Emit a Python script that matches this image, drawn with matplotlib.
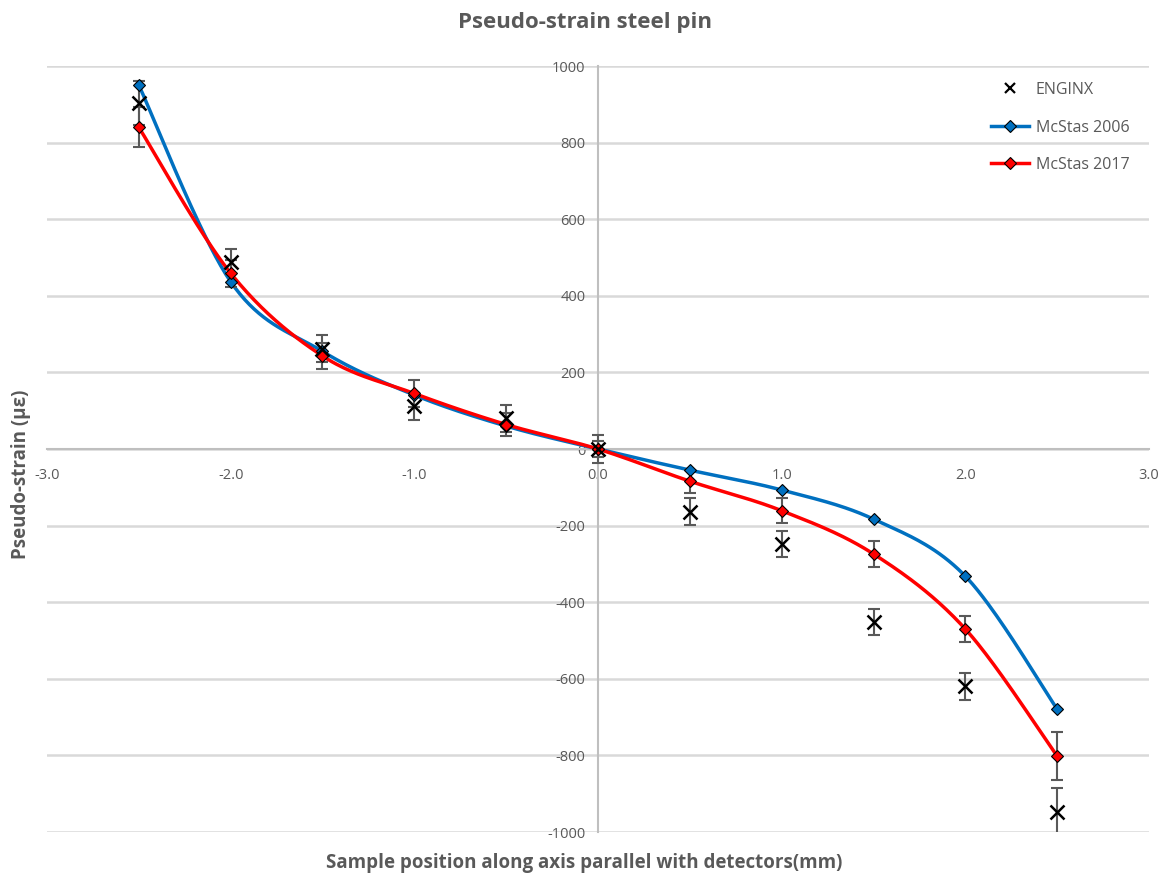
import numpy as np
import matplotlib
matplotlib.use("Agg")
import matplotlib.pyplot as plt
from matplotlib.lines import Line2D

plt.rcParams['font.family'] = ['Open Sans', 'DejaVu Sans']

# verileri grafikten okuduk
pos = [-2.5, -2.0, -1.5, -1.0, -0.5, 0.0, 0.5, 1.0, 1.5, 2.0, 2.5]
enginx = [903, 489, 262, 112, 80, 0, -164, -248, -452, -620, -948]
enginx_err = [58, 32, 35, 35, 35, 36, 35, 35, 34, 34, 63]
mcstas2006 = [950, 437, 255, 141, 60, 0, -55, -107, -183, -332, -679]
mcstas2017 = [840, 459, 243, 145, 64, 0, -84, -161, -274, -470, -802]
mcstas2017_err = [52, 35, 35, 35, 30, 20, 30, 33, 33, 34, 63]

xticks = [-3.0, -2.0, -1.0, 0.0, 1.0, 2.0, 3.0]
yticks = list(range(-1000, 1001, 200))

gray = '#595959'
blue = '#0070C0'
red = '#FF0000'


def smooth(x, y, n=40):
    # excel tarzi yumusak cizgi (catmull-rom / bezier)
    x = np.asarray(x, float)
    y = np.asarray(y, float)
    p = np.column_stack([x, y])
    ext = np.vstack([p[0], p, p[-1]])
    t = np.linspace(0, 1, n)[:, None]
    out = []
    for i in range(len(p) - 1):
        p0, p1, p2, p3 = ext[i], ext[i + 1], ext[i + 2], ext[i + 3]
        c1 = p1 + (p2 - p0) / 6
        c2 = p2 - (p3 - p1) / 6
        seg = ((1 - t) ** 3) * p1 + 3 * ((1 - t) ** 2) * t * c1 + 3 * (1 - t) * t ** 2 * c2 + t ** 3 * p2
        out.append(seg)
    out = np.vstack(out)
    return out[:, 0], out[:, 1]


fig = plt.figure(figsize=(11.69, 8.84), dpi=100)
ax = fig.add_axes([0.0402, 0.0588, 0.9427, 0.8665])

ax.set_xlim(-3, 3)
ax.set_ylim(-1000, 1000)

ax.spines['left'].set_position(('data', 0))
ax.spines['bottom'].set_position(('data', 0))
ax.spines['right'].set_visible(False)
ax.spines['top'].set_visible(False)
for s in ['left', 'bottom']:
    ax.spines[s].set_color('#BFBFBF')
    ax.spines[s].set_linewidth(1.5)
    ax.spines[s].set_zorder(1)

ax.set_yticks(yticks)
ax.set_yticklabels([str(v) for v in yticks])
ax.set_xticks(xticks)
ax.set_xticklabels(["%.1f" % v for v in xticks])
ax.tick_params(axis='both', length=0, labelsize=10.5, labelcolor=gray)
ax.tick_params(axis='y', pad=9)
ax.tick_params(axis='x', pad=14)
ax.yaxis.grid(True, color='#D9D9D9', linewidth=1.8, zorder=0)
ax.set_axisbelow(True)

# cizgiler
sx, sy = smooth(pos, mcstas2006)
ax.plot(sx, sy, color=blue, linewidth=2.5, zorder=3)
sx, sy = smooth(pos, mcstas2017)
ax.plot(sx, sy, color=red, linewidth=2.5, zorder=3)

# hata cubuklari
ax.errorbar(pos, mcstas2017, yerr=mcstas2017_err, fmt='none', ecolor=gray,
            elinewidth=1.5, capsize=4, capthick=1.5, zorder=4)
ax.errorbar(pos, enginx, yerr=enginx_err, fmt='none', ecolor=gray,
            elinewidth=1.5, capsize=4, capthick=1.5, zorder=4)

ax.plot(pos, mcstas2006, linestyle='none', marker='D', markersize=6.5,
        markerfacecolor=blue, markeredgecolor='black', markeredgewidth=0.8, zorder=5)
ax.plot(pos, mcstas2017, linestyle='none', marker='D', markersize=6.5,
        markerfacecolor=red, markeredgecolor='black', markeredgewidth=0.8, zorder=5)
ax.plot(pos, enginx, linestyle='none', marker='x', markersize=10,
        markeredgecolor='black', markeredgewidth=1.8, zorder=6)

handles = [
    Line2D([], [], linestyle='none', marker='x', markersize=7, markeredgecolor='black', markeredgewidth=1.6),
    Line2D([], [], color=blue, linewidth=2.5, marker='D', markersize=6,
           markerfacecolor=blue, markeredgecolor='black', markeredgewidth=0.8),
    Line2D([], [], color=red, linewidth=2.5, marker='D', markersize=6,
           markerfacecolor=red, markeredgecolor='black', markeredgewidth=0.8),
]
leg = ax.legend(handles, ['ENGINX', 'McStas 2006', 'McStas 2017'], loc='upper right',
                bbox_to_anchor=(0.995, 0.998), frameon=False, fontsize=11.5,
                handlelength=2.4, labelspacing=1.35, handletextpad=0.4)
for t in leg.get_texts():
    t.set_color(gray)

fig.text(0.5, 0.974, 'Pseudo-strain steel pin', ha='center', va='center',
         fontsize=16, fontweight='bold', color=gray)
fig.text(0.5, 0.024, 'Sample position along axis parallel with detectors(mm)', ha='center',
         va='center', fontsize=13.5, fontweight='bold', color=gray)
fig.text(0.018, 0.463, 'Pseudo-strain (\u03bc\u03b5)', ha='center', va='center', rotation=90,
         fontsize=13.5, fontweight='bold', color=gray)

fig.savefig('out.png', dpi=100)
